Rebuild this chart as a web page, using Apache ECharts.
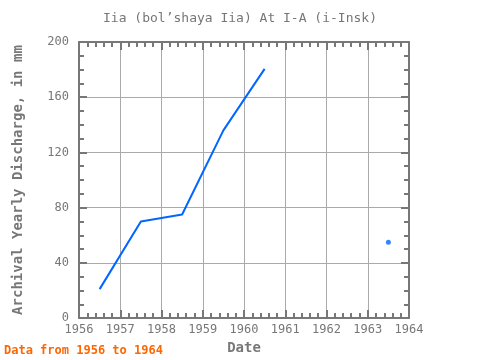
<!DOCTYPE html>
<html><head><meta charset="utf-8">
<script src="https://cdn.jsdelivr.net/npm/echarts@6/dist/echarts.min.js"></script>
<style>html,body{margin:0;padding:0;background:#fff}#c{width:480px;height:360px}</style>
</head><body><div id="c"></div>
<script>
var years = [1956.5, 1957.5, 1958.5, 1959.5, 1960.5, 1961.5, 1962.5, 1963.5];
var discharge = [21, 70, 75, 136, 180.5, null, null, 55];
var xTicks = [1956, 1957, 1958, 1959, 1960, 1961, 1962, 1963, 1964];
var yTicks = [0, 40, 80, 120, 160, 200];
var titleText = 'Iia (bol\u2019shaya Iia) At I-A (i-Insk)';
var xName = 'Date';
var yName = 'Archival Yearly Discharge, in mm';
var footer = 'Data from 1956 to 1964';

var lineData = years.map(function(y,i){return [y, discharge[i]];});
var isolated = [];
for (var i=0;i<years.length;i++){
  if (discharge[i]==null) continue;
  var prev = i>0 ? discharge[i-1] : null, next = i<years.length-1 ? discharge[i+1] : null;
  if (prev==null && next==null) isolated.push([years[i], discharge[i]]);
}
var font = '"DejaVu Sans Mono", monospace';
var axisCol = '#777';
function xa(show, pos){
  return {type:'value', position:pos, min:xTicks[0], max:xTicks[xTicks.length-1], interval:1,
    axisLine:{show:true,onZero:false,lineStyle:{color:axisCol,width:2}},
    axisTick:{show:true,inside:true,length:8,lineStyle:{color:axisCol,width:2}},
    minorTick:{show:true,splitNumber:5,length:5,lineStyle:{color:axisCol,width:2}},
    splitLine:{show:show,lineStyle:{color:'#aaa',width:1}},
    axisLabel:{show:show,color:'#777',fontFamily:font,fontSize:12,margin:6,formatter:function(v){return String(v);}},
    name: show?xName:'', nameLocation:'middle', nameGap:22,
    nameTextStyle:{color:'#777',fontFamily:font,fontSize:14,fontWeight:'bold'}};
}
function ya(show, pos){
  return {type:'value', position:pos, min:yTicks[0], max:yTicks[yTicks.length-1], interval:40,
    axisLine:{show:true,onZero:false,lineStyle:{color:axisCol,width:2}},
    axisTick:{show:true,inside:true,length:8,lineStyle:{color:axisCol,width:2}},
    minorTick:{show:true,splitNumber:4,length:5,lineStyle:{color:axisCol,width:2}},
    splitLine:{show:show,lineStyle:{color:'#aaa',width:1}},
    axisLabel:{show:show,color:'#777',fontFamily:font,fontSize:12,margin:10},
    name: show?yName:'', nameLocation:'middle', nameGap:54,
    nameTextStyle:{color:'#777',fontFamily:font,fontSize:14,fontWeight:'bold'}};
}
var chart = echarts.init(document.getElementById('c'));
chart.setOption({
  animation:false,
  backgroundColor:'#fff',
  title:{text:titleText,left:'center',top:7,textStyle:{color:'#777',fontFamily:font,fontSize:13,fontWeight:'normal'}},
  graphic:[{type:'text',left:4,top:345,style:{text:footer,fill:'#ff6600',font:'bold 12px "DejaVu Sans Mono", monospace'}}],
  grid:{left:79,right:71,top:42,bottom:38},
  xAxis:[xa(true,'bottom'), xa(false,'top')],
  yAxis:[ya(true,'left'), ya(false,'right')],
  series:[
    {type:'line',data:lineData,xAxisIndex:0,yAxisIndex:0,showSymbol:false,connectNulls:false,smooth:false,
     lineStyle:{color:'#0066ff',width:2},itemStyle:{color:'#0066ff'}},
    {type:'scatter',data:isolated,symbol:'circle',symbolSize:5,itemStyle:{color:'#0066ff'}}
  ]
});
</script></body></html>
